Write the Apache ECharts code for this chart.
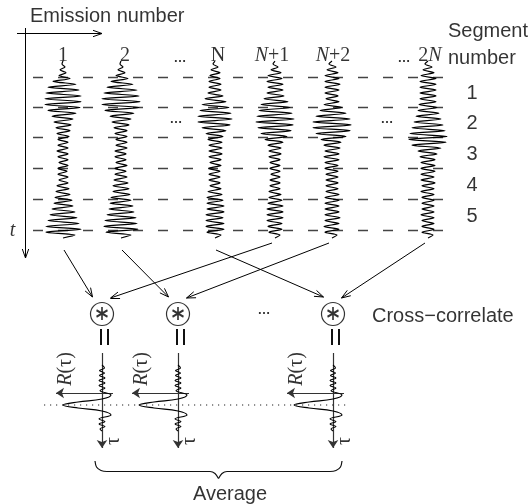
<!DOCTYPE html>
<html>
<head>
<meta charset="utf-8">
<script src="https://cdn.jsdelivr.net/npm/echarts@6/dist/echarts.min.js"></script>
<style>
  html, body { margin: 0; padding: 0; background: #fff; }
  #c { width: 532px; height: 504px; }
</style>
</head>
<body>
<div id="c"></div>
<script>
// Echo traces: peak half-width of each successive half-cycle, top to bottom
const emission1 = [
  1, 2, 3, 3, 4,
  7, 10, 13, 15, 16, 17, 18, 18, 18, 18,
  17, 15, 13, 11, 10, 9, 8, 7, 7, 6, 6,
  5, 5, 5, 5, 6, 5, 5, 5, 4, 5,
  5, 4, 5, 5, 4, 5, 6, 6, 7, 7, 8,
  9, 9, 10, 11, 12, 13, 14, 15, 16, 17, 18,
  17, 12
];
const emission2 = [
  1, 2, 3, 4, 5,
  7, 10, 12, 14, 16, 17, 18, 19, 19, 19,
  18, 16, 13, 11, 10, 9, 8, 7, 6, 6, 6,
  5, 6, 5, 6, 6, 5, 6, 5, 5, 6,
  6, 5, 6, 6, 7, 7, 8, 8, 8, 9, 10,
  10, 11, 12, 12, 13, 14, 15, 16, 16, 17, 17,
  15, 10
];
const emissionN = [
  2, 3, 4, 5, 5,
  5, 6, 6, 6, 6, 7, 8, 10, 11, 13,
  14, 15, 16, 17, 17, 17, 15, 13, 11, 9, 8,
  7, 7, 6, 7, 6, 7, 6, 6, 5, 6,
  6, 5, 6, 5, 6, 5, 5, 6, 7, 7, 8,
  8, 8, 9, 8, 9, 9, 8, 9, 9, 9, 9,
  8, 6
];
const emissionN1 = [
  2, 3, 4, 6, 7,
  7, 8, 8, 7, 8, 8, 9, 11, 13, 14,
  15, 16, 17, 18, 19, 19, 18, 17, 16, 14, 12,
  10, 8, 7, 6, 6, 6, 6, 5, 5, 5,
  5, 5, 4, 5, 5, 5, 5, 5, 6, 6, 6,
  7, 7, 8, 8, 8, 8, 8, 8, 7, 7, 7,
  6, 5
];
const emissionN2 = [
  3, 4, 5, 6, 7,
  7, 7, 8, 7, 7, 7, 6, 6, 7, 8,
  10, 12, 14, 16, 18, 19, 19, 19, 18, 16, 14,
  11, 9, 8, 8, 7, 7, 8, 7, 7, 6,
  7, 6, 6, 6, 6, 6, 6, 6, 6, 7, 7,
  7, 7, 7, 7, 7, 7, 8, 7, 7, 8, 7,
  7, 5
];
const emission2N = [
  3, 4, 5, 6, 7,
  8, 8, 8, 8, 8, 8, 8, 8, 8, 9,
  9, 10, 11, 12, 13, 14, 15, 16, 17, 18, 19,
  19, 18, 16, 13, 10, 9, 8, 7, 7, 7,
  7, 7, 7, 6, 7, 7, 6, 6, 7, 6, 6,
  6, 6, 6, 6, 6, 7, 6, 6, 6, 6, 6,
  6, 5
];

// Emission labels (N in italics where it is a variable)
const emissionLabels = ['1', '2', 'N', '{i|N}+1', '{i|N}+2', '2{i|N}'];
// Segment borders along t, and the segment numbers between them
const segmentEdges = [77, 107, 137, 168, 199, 230];
const segmentNumbers = ['1', '2', '3', '4', '5'];
// Which traces feed which cross-correlator: [left input, right input]
const correlatorInputs = [[0, 3], [1, 4], [2, 5]];
// Cross-correlation result R(τ): [lag offset, τ]
const correlationPulse = [
  [0, 365], [2.5, 368], [-2.5, 370.5], [2.5, 373], [-2.5, 375.5], [3, 378],
  [-3, 380.5], [3, 383], [-3, 385.5], [3, 388], [-2, 390.5], [9, 395],
  [0, 399], [-24, 402], [-39, 405], [-24, 408], [0, 411], [9, 415],
  [-3, 419], [3, 421.5], [-3, 424], [3, 426.5], [-2, 429], [0, 431]
];

// ---- layout ----
const traces = [emission1, emission2, emissionN, emissionN1, emissionN2, emission2N];
const traceX = [63, 121, 215, 275, 332, 428];
const labelX = [63, 125, 218, 272, 333, 430];
const corrX = [102, 178, 333];
const corrY = 314;
const T0 = 64, STEP = 2.9;
const SANS = 'Liberation Sans, Arial, sans-serif';
const SERIF = 'Liberation Serif, Times New Roman, serif';

function wavePoints(cx, amps) {
  const pts = [[cx, T0 - STEP]];
  amps.forEach((a, i) => pts.push([cx + (i % 2 ? a : -a), T0 + i * STEP]));
  pts.push([cx, T0 + amps.length * STEP]);
  return pts;
}

// open arrow: shaft plus two barbs at the tip
function openArrow(from, tip, shafts, barbs) {
  const dx = tip[0] - from[0], dy = tip[1] - from[1];
  const len = Math.hypot(dx, dy);
  const ux = dx / len, uy = dy / len;
  const L = 9, W = 3.2;
  shafts.push({ coords: [from, tip] });
  barbs.push({ coords: [tip, [tip[0] - ux * L - uy * W, tip[1] - uy * L + ux * W]] });
  barbs.push({ coords: [tip, [tip[0] - ux * L + uy * W, tip[1] - uy * L - ux * W]] });
}

// line ending so that a filled arrow symbol lands its tip on `tip`
function arrowTo(from, tip, size) {
  const dx = tip[0] - from[0], dy = tip[1] - from[1];
  const len = Math.hypot(dx, dy);
  const k = (size / 2) / len;
  return { coords: [from, [tip[0] - dx * k, tip[1] - dy * k]] };
}

const series = [];

// dashed segment borders
segmentEdges.forEach(t => series.push({
  type: 'line', data: [[33, t + 0.5], [443, t + 0.5]], showSymbol: false, silent: true, z: 1,
  lineStyle: { color: '#444', width: 1.3, type: [10, 15] }
}));

// echo traces
traces.forEach((amps, k) => series.push({
  type: 'line', data: wavePoints(traceX[k], amps), smooth: 0.3, showSymbol: false,
  silent: true, z: 3, lineStyle: { color: '#000', width: 1.2 }
}));

// arrows from the traces into the correlators, plus the emission and time axes
const shafts = [], barbs = [];
correlatorInputs.forEach(([l, r], c) => {
  openArrow([traceX[l] + 1, 250], [corrX[c] - 9.5, 297], shafts, barbs);
  openArrow([traceX[r] - 3, 243], [corrX[c] + 8.5, 298], shafts, barbs);
});
openArrow([17, 33.5], [102, 33.5], shafts, barbs);
openArrow([25.5, 28], [25.5, 258], shafts, barbs);
series.push({
  type: 'lines', coordinateSystem: 'cartesian2d', silent: true, z: 4, symbol: 'none',
  lineStyle: { color: '#000', width: 1, opacity: 1, curveness: 0 },
  data: shafts.concat(barbs)
});

// correlator circles with the ⊛ sign
series.push({
  type: 'scatter', silent: true, z: 5, symbol: 'circle', symbolSize: 23,
  itemStyle: { color: '#fff', borderColor: '#000', borderWidth: 1.2 },
  data: corrX.map(x => [x, corrY])
});
series.push({
  type: 'scatter', silent: true, z: 6,
  symbol: 'path://M0,-1L0,1M-0.866,-0.5L0.866,0.5M-0.866,0.5L0.866,-0.5',
  symbolSize: [11, 13],
  itemStyle: { color: 'rgba(0,0,0,0)', borderColor: '#000', borderWidth: 1.8 },
  data: corrX.map(x => [x, corrY - 0.5])
});

// "=" signs under the correlators
const equalBars = [];
corrX.forEach(x => {
  equalBars.push({ coords: [[x - 1.5, 329], [x - 1.5, 345]] });
  equalBars.push({ coords: [[x + 5.5, 329], [x + 5.5, 345]] });
});
series.push({
  type: 'lines', coordinateSystem: 'cartesian2d', silent: true, z: 4, symbol: 'none',
  lineStyle: { color: '#111', width: 2, opacity: 1 }, data: equalBars
});

// R(τ) axes
const rAxes = [];
corrX.forEach(x => {
  rAxes.push(arrowTo([x, 353], [x, 452], 8));
  rAxes.push(arrowTo([x + 11, 393], [x - 50, 393], 8));
});
series.push({
  type: 'lines', coordinateSystem: 'cartesian2d', silent: true, z: 4,
  symbol: ['none', 'arrow'], symbolSize: 8,
  lineStyle: { color: '#333', width: 1.2, opacity: 1 }, data: rAxes
});

// correlation results
corrX.forEach(x => series.push({
  type: 'line', data: correlationPulse.map(([d, t]) => [x + d, t]), smooth: 0.4,
  showSymbol: false, silent: true, z: 5, lineStyle: { color: '#000', width: 1.1 }
}));

// peak alignment line
series.push({
  type: 'line', data: [[44, 405], [348, 405]], showSymbol: false, silent: true, z: 6,
  lineStyle: { color: '#222', width: 1.2, type: [1.2, 4.8] }
});

// averaging brace
const braceLeft = [[95, 461], [96.5, 467], [101, 470.5], [107, 471.5], [210, 471.5], [215, 473.5], [218.5, 478.5]];
[braceLeft, braceLeft.slice().reverse().map(([x, y]) => [437 - x, y])].forEach(d => series.push({
  type: 'line', data: d, smooth: 0.3, showSymbol: false, silent: true, z: 4,
  lineStyle: { color: '#111', width: 1.2 }
}));

// text
function textSeries(items) {
  return {
    type: 'scatter', silent: true, z: 10, symbolSize: 0,
    itemStyle: { color: 'rgba(0,0,0,0)' },
    data: items.map(it => ({
      value: [it.x, it.y],
      label: {
        show: true, position: [0, 0], formatter: it.text,
        align: it.align || 'center', verticalAlign: 'middle', rotate: it.rotate || 0,
        fontFamily: it.font || SANS, fontSize: it.size || 20,
        fontStyle: it.italic ? 'italic' : 'normal', fontWeight: it.bold ? 'bold' : 'normal',
        color: '#000',
        rich: { i: { fontStyle: 'italic', fontFamily: SERIF, fontSize: it.size || 20 } }
      }
    }))
  };
}

const texts = [
  { x: 30, y: 16, text: 'Emission number', align: 'left' },
  { x: 448, y: 31, text: 'Segment', align: 'left' },
  { x: 448, y: 58, text: 'number', align: 'left' },
  { x: 372, y: 316, text: 'Cross\u2212correlate', align: 'left' },
  { x: 230, y: 494, text: 'Average' },
  { x: 12.5, y: 231, text: 't', font: SERIF, italic: true }
];
segmentNumbers.forEach((s, i) => texts.push({
  x: 472, y: (segmentEdges[i] + segmentEdges[i + 1]) / 2 + 1.5, text: s
}));
emissionLabels.forEach((s, i) => texts.push({ x: labelX[i], y: 56, text: s, font: SERIF }));
[[180, 58.5], [404, 58.5], [176, 119], [387, 119], [264, 310]].forEach(([x, y]) =>
  texts.push({ x, y, text: '\u2026', size: 13, bold: true }));
corrX.forEach(x => {
  texts.push({ x: x - 36, y: 369, text: '{i|R}(\u03c4)', font: SERIF, size: 20, rotate: 90 });
  texts.push({ x: x + 12, y: 441, text: '\u03c4', font: SERIF, size: 20, rotate: 90 });
});
series.push(textSeries(texts));

const chart = echarts.init(document.getElementById('c'));
chart.setOption({
  animation: false,
  backgroundColor: '#fff',
  grid: { left: 0, right: 0, top: 0, bottom: 0 },
  xAxis: { type: 'value', min: 0, max: 532, show: false },
  yAxis: { type: 'value', min: 0, max: 504, inverse: true, show: false },
  series
});
</script>
</body>
</html>
